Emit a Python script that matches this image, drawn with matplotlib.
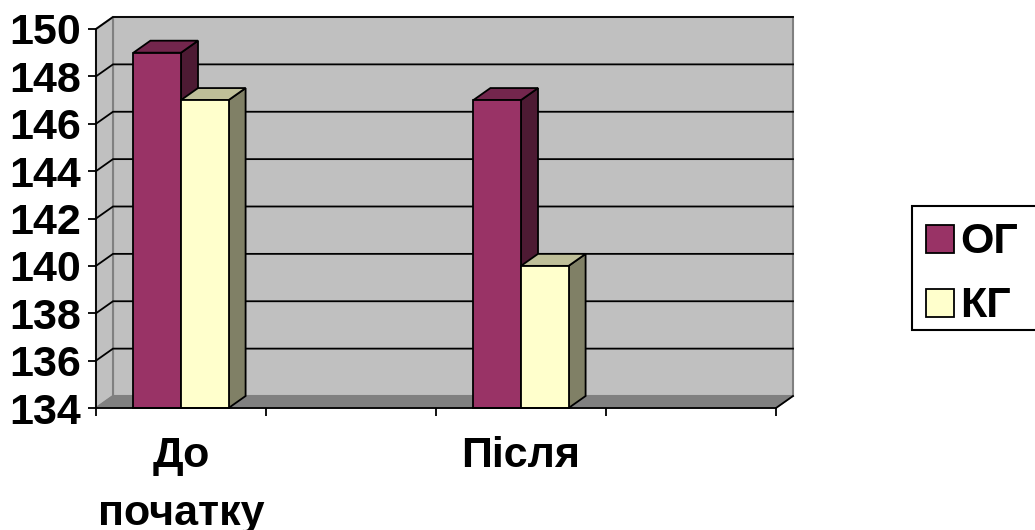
import matplotlib.pyplot as plt
from matplotlib.patches import Polygon, Rectangle
import numpy as np

plt.rcParams['font.family'] = ['Liberation Sans', 'DejaVu Sans']
plt.rcParams['font.weight'] = 'bold'

# дані
categories = ['До\nпочатку', '', 'Після', '']
series_names = ['ОГ', 'КГ']
og_values = [149, np.nan, 147, np.nan]
kg_values = [147, np.nan, 140, np.nan]
y_ticks = [134, 136, 138, 140, 142, 144, 146, 148, 150]

front_colors = ['#993366', '#FFFFCC']
top_colors = ['#73264D', '#BFBF99']
side_colors = ['#4D1A33', '#808066']

W, H = 1035, 530
fig = plt.figure(figsize=(W / 100, H / 100), dpi=100)
# передня площина діаграми в пікселях
left, right, bottom, top = 96, 776, 408, 29
ax = fig.add_axes([left / W, (H - bottom) / H, (right - left) / W, (bottom - top) / H])
ax.set_xlim(0, len(categories))
ax.set_ylim(y_ticks[0], y_ticks[-1])
ax.patch.set_visible(False)

# глибина 3D у одиницях даних
px_x = (right - left) / len(categories)
px_y = (bottom - top) / (y_ticks[-1] - y_ticks[0])
DX = 17 / px_x
DY = 12 / px_y
y0, y1 = y_ticks[0], y_ticks[-1]
n = len(categories)

# задня стінка, ліва стінка, підлога
ax.add_patch(Polygon([(DX, y0 + DY), (n + DX, y0 + DY), (n + DX, y1 + DY), (DX, y1 + DY)],
                     fc='#C0C0C0', ec='#808080', lw=1.5, zorder=0, clip_on=False))
ax.add_patch(Polygon([(0, y0), (DX, y0 + DY), (DX, y1 + DY), (0, y1)],
                     fc='#C0C0C0', ec='#808080', lw=1.5, zorder=0, clip_on=False))
ax.add_patch(Polygon([(0, y0), (n, y0), (n + DX, y0 + DY), (DX, y0 + DY)],
                     fc='#808080', ec='#808080', lw=1, zorder=0.5, clip_on=False))

# лінії сітки
for v in y_ticks[1:]:
    ax.plot([0, DX, n + DX], [v, v + DY, v + DY], color='black', lw=1.3, zorder=1,
            clip_on=False, solid_joinstyle='miter')
ax.plot([n, n + DX], [y0, y0 + DY], color='black', lw=1.3, zorder=1, clip_on=False)


def bar3d(x0, w, v, front, topc, side):
    kw = dict(ec='black', lw=1.3, zorder=3, clip_on=False, joinstyle='miter')
    ax.add_patch(Polygon([(x0 + w, y0), (x0 + w + DX, y0 + DY), (x0 + w + DX, v + DY), (x0 + w, v)],
                         fc=side, **kw))
    ax.add_patch(Polygon([(x0, v), (x0 + w, v), (x0 + w + DX, v + DY), (x0 + DX, v + DY)],
                         fc=topc, **kw))
    ax.add_patch(Rectangle((x0, y0), w, v - y0, fc=front, **kw))


bw = 0.28
for i in range(n):
    for j, vals in enumerate([og_values, kg_values]):
        if np.isnan(vals[i]):
            continue
        x0 = i + 0.5 - bw + j * bw
        bar3d(x0, bw, vals[i], front_colors[j], top_colors[j], side_colors[j])

for s in ['top', 'right']:
    ax.spines[s].set_visible(False)
for s in ['left', 'bottom']:
    ax.spines[s].set_linewidth(1.3)
    ax.spines[s].set_zorder(4)

ax.set_yticks(y_ticks)
ax.set_yticklabels([str(t) for t in y_ticks], fontsize=31, fontweight='bold')
ax.tick_params(axis='y', length=6, width=1.3, pad=5)

ax.set_xticks(range(n + 1))
ax.set_xticklabels([])
ax.tick_params(axis='x', which='major', length=6, width=1.3, direction='out')
ax.set_xticks(np.arange(n) + 0.5, minor=True)
ax.set_xticklabels(categories, minor=True, fontsize=31, fontweight='bold', linespacing=1.6)
ax.tick_params(axis='x', which='minor', length=0, pad=20)

# легенда
fig.add_artist(Rectangle((912 / W, (H - 330) / H), 200 / W, 124 / H, transform=fig.transFigure,
                         fc='white', ec='black', lw=1.5))
for j, (name, base) in enumerate(zip(series_names, [253, 317])):
    fig.add_artist(Rectangle((926 / W, (H - base) / H), 28 / W, 28 / H, transform=fig.transFigure,
                             fc=front_colors[j], ec='black', lw=1.3))
    fig.text(960 / W, (H - base) / H, name, fontsize=31, fontweight='bold', va='baseline')

fig.savefig('out.png', dpi=100)
